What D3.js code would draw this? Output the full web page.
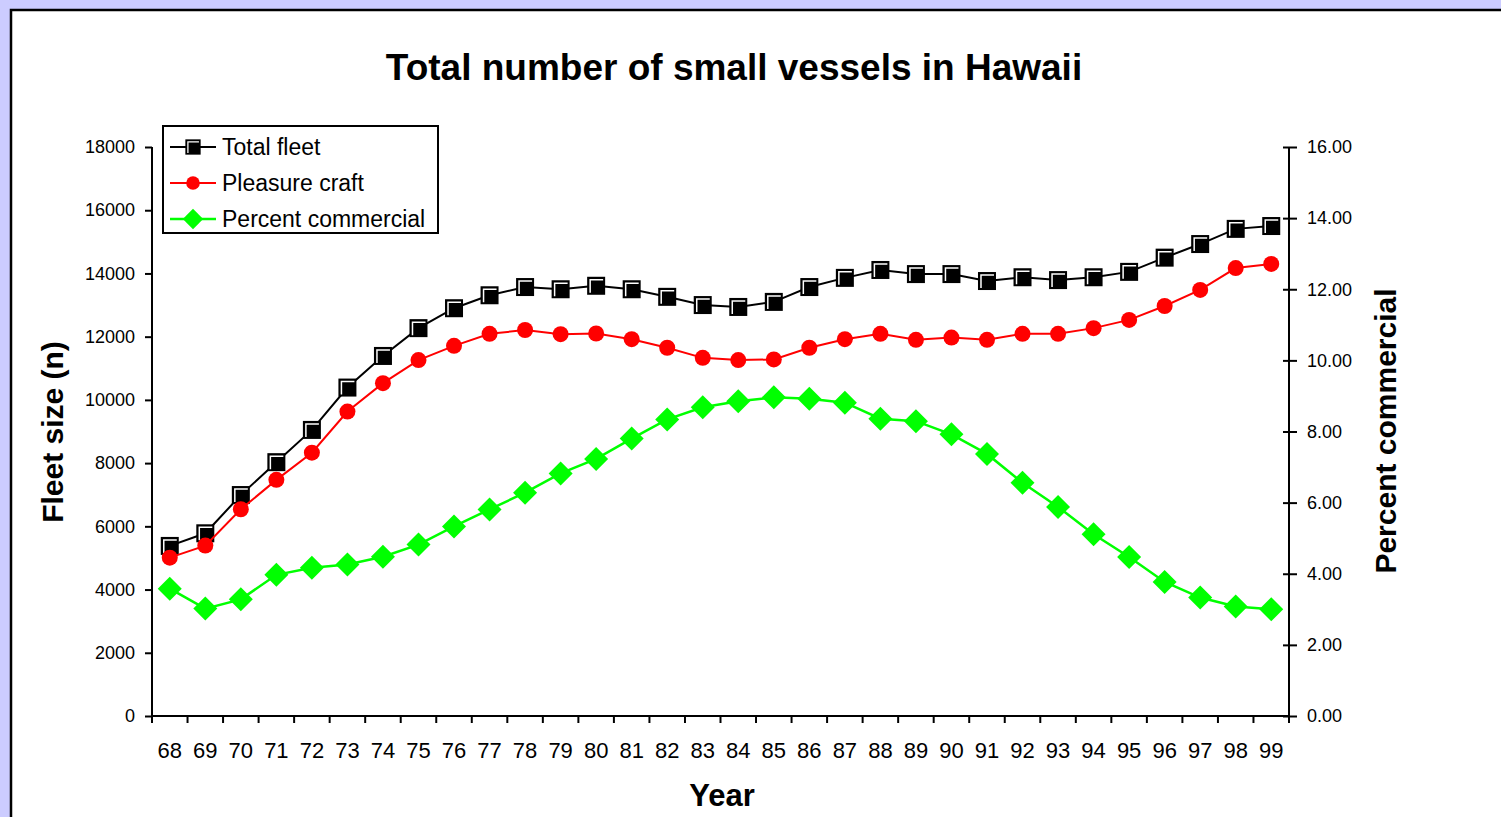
<!DOCTYPE html>
<html>
<head>
<meta charset="utf-8">
<script src="https://cdn.jsdelivr.net/npm/d3@7"></script>
<style>
  html, body { margin: 0; padding: 0; background: #ccccff; }
  svg { display: block; font-family: "Liberation Sans", Arial, sans-serif; }
</style>
</head>
<body>
<div id="chart"></div>
<script>
// Data
const years = ['68','69','70','71','72','73','74','75','76','77','78','79','80','81','82','83',
               '84','85','86','87','88','89','90','91','92','93','94','95','96','97','98','99'];

const totalFleet = [5380, 5780, 6990, 8030, 9050, 10390, 11390, 12270, 12900, 13310, 13570, 13500,
                    13610, 13500, 13260, 13000, 12940, 13100, 13570, 13860, 14110, 13980, 13980, 13760,
                    13880, 13790, 13880, 14050, 14500, 14930, 15410, 15500];

const pleasureCraft = [5010, 5390, 6540, 7470, 8330, 9630, 10530, 11260, 11710, 12090, 12210, 12080,
                       12100, 11920, 11650, 11330, 11260, 11280, 11650, 11920, 12090, 11900, 11970, 11900,
                       12090, 12090, 12270, 12530, 12970, 13480, 14170, 14300];

const percentCommercial = [3.58, 3.02, 3.28, 3.97, 4.17, 4.26, 4.48, 4.82, 5.33, 5.81, 6.28, 6.82,
                           7.23, 7.80, 8.34, 8.68, 8.85, 8.96, 8.92, 8.81, 8.36, 8.29, 7.92, 7.37,
                           6.56, 5.88, 5.11, 4.47, 3.77, 3.33, 3.08, 3.00];

const leftTicks = [0, 2000, 4000, 6000, 8000, 10000, 12000, 14000, 16000, 18000];
const rightTicks = [0, 2, 4, 6, 8, 10, 12, 14, 16];

const width = 1501, height = 817;
const plot = { left: 152, right: 1289, top: 147, bottom: 716 };

const svg = d3.select('#chart').append('svg')
    .attr('width', width)
    .attr('height', height);

// white chart panel with black frame
svg.append('rect')
    .attr('x', 11).attr('y', 10)
    .attr('width', width + 20).attr('height', height + 20)
    .attr('fill', '#fff')
    .attr('stroke', '#000')
    .attr('stroke-width', 2.5);

// Scales
const x = d3.scaleBand()
    .domain(years)
    .range([plot.left, plot.right])
    .padding(0);

const yLeft = d3.scaleLinear()
    .domain([0, 18000])
    .range([plot.bottom, plot.top]);

const yRight = d3.scaleLinear()
    .domain([0, 16])
    .range([plot.bottom, plot.top]);

const cx = d => x(d) + x.bandwidth() / 2;

// Title
svg.append('text')
    .attr('x', 734).attr('y', 80)
    .attr('text-anchor', 'middle')
    .attr('font-size', 37).attr('font-weight', 'bold')
    .text('Total number of small vessels in Hawaii');

// Left axis
const leftAxis = svg.append('g')
    .attr('transform', `translate(${plot.left},0)`)
    .call(d3.axisLeft(yLeft).tickValues(leftTicks).tickSize(7).tickPadding(10).tickFormat(d3.format('d')));
leftAxis.select('.domain').attr('stroke-width', 2).attr('d', `M0,${plot.top}V${plot.bottom}`);
leftAxis.selectAll('.tick line').attr('stroke-width', 2);
leftAxis.selectAll('.tick text').attr('font-size', 18).attr('font-family', '"Liberation Sans", Arial, sans-serif').attr('fill', '#000');

// Right axis (ticks cross the line)
const rightAxis = svg.append('g')
    .attr('transform', `translate(${plot.right},0)`)
    .call(d3.axisRight(yRight).tickValues(rightTicks).tickSize(8).tickPadding(10).tickFormat(d3.format('.2f')));
rightAxis.select('.domain').attr('stroke-width', 2).attr('d', `M0,${plot.top}V${plot.bottom}`);
rightAxis.selectAll('.tick line').attr('stroke-width', 2).attr('x1', -6);
rightAxis.selectAll('.tick text').attr('font-size', 18).attr('font-family', '"Liberation Sans", Arial, sans-serif').attr('fill', '#000');

// Bottom axis: labels at category centres, ticks at band edges
const bottomAxis = svg.append('g')
    .attr('transform', `translate(0,${plot.bottom})`)
    .call(d3.axisBottom(x).tickSize(0).tickPadding(26));
bottomAxis.select('.domain').attr('stroke-width', 2).attr('d', `M${plot.left},0H${plot.right}`);
bottomAxis.selectAll('.tick text').attr('font-size', 22).attr('font-family', '"Liberation Sans", Arial, sans-serif').attr('fill', '#000');

const edges = years.map(d => x(d)).concat([plot.right]);
bottomAxis.selectAll('.edge')
    .data(edges)
    .enter()
    .append('line')
    .attr('class', 'edge')
    .attr('x1', d => d).attr('x2', d => d)
    .attr('y1', 0).attr('y2', 7)
    .attr('stroke', '#000')
    .attr('stroke-width', 2);

// Axis titles
svg.append('text')
    .attr('transform', 'translate(52,432) rotate(-90)')
    .attr('text-anchor', 'middle')
    .attr('dominant-baseline', 'central')
    .attr('font-size', 30).attr('font-weight', 'bold')
    .text('Fleet size (n)');

svg.append('text')
    .attr('transform', 'translate(1385,431) rotate(-90)')
    .attr('text-anchor', 'middle')
    .attr('dominant-baseline', 'central')
    .attr('font-size', 30).attr('font-weight', 'bold')
    .text('Percent commercial');

svg.append('text')
    .attr('x', 722).attr('y', 806)
    .attr('text-anchor', 'middle')
    .attr('font-size', 31).attr('font-weight', 'bold')
    .text('Year');

// Marker helpers
function squareMarker(sel) {
    sel.append('rect')
        .attr('x', -9).attr('y', -9)
        .attr('width', 18).attr('height', 18)
        .attr('fill', '#000');
    sel.append('path')
        .attr('d', 'M-6,7V-6H7')
        .attr('fill', 'none')
        .attr('stroke', '#fff')
        .attr('stroke-width', 1.5);
}

function circleMarker(sel) {
    sel.append('circle').attr('r', 8).attr('fill', '#ff0000');
}

function diamondMarker(sel) {
    sel.append('path')
        .attr('d', 'M0,-12L12,0L0,12L-12,0Z')
        .attr('fill', '#00ff00');
}

const series = [
    { name: 'Total fleet', values: totalFleet, y: yLeft, color: '#000000', width: 2, marker: squareMarker },
    { name: 'Pleasure craft', values: pleasureCraft, y: yLeft, color: '#ff0000', width: 2, marker: circleMarker },
    { name: 'Percent commercial', values: percentCommercial, y: yRight, color: '#00ff00', width: 2.5, marker: diamondMarker }
];

series.forEach(s => {
    const line = d3.line()
        .x((d, i) => cx(years[i]))
        .y(d => s.y(d));

    svg.append('path')
        .datum(s.values)
        .attr('d', line)
        .attr('fill', 'none')
        .attr('stroke', s.color)
        .attr('stroke-width', s.width);

    svg.append('g')
        .selectAll('g')
        .data(s.values)
        .enter()
        .append('g')
        .attr('transform', (d, i) => `translate(${cx(years[i])},${s.y(d)})`)
        .each(function() { s.marker(d3.select(this)); });
});

// Legend
const legend = svg.append('g');
legend.append('rect')
    .attr('x', 163).attr('y', 126)
    .attr('width', 275).attr('height', 107)
    .attr('fill', '#fff')
    .attr('stroke', '#000')
    .attr('stroke-width', 2);

series.forEach((s, i) => {
    const ly = 147 + i * 36;
    const row = legend.append('g');
    row.append('line')
        .attr('x1', 170).attr('x2', 216)
        .attr('y1', ly).attr('y2', ly)
        .attr('stroke', s.color)
        .attr('stroke-width', s.width);
    const m = row.append('g').attr('transform', `translate(193,${ly})`);
    s.marker(m);
    m.attr('transform', `translate(193,${ly}) scale(0.85)`);
    row.append('text')
        .attr('x', 222).attr('y', ly)
        .attr('dominant-baseline', 'central')
        .attr('font-size', 23)
        .text(s.name);
});
</script>
</body>
</html>
